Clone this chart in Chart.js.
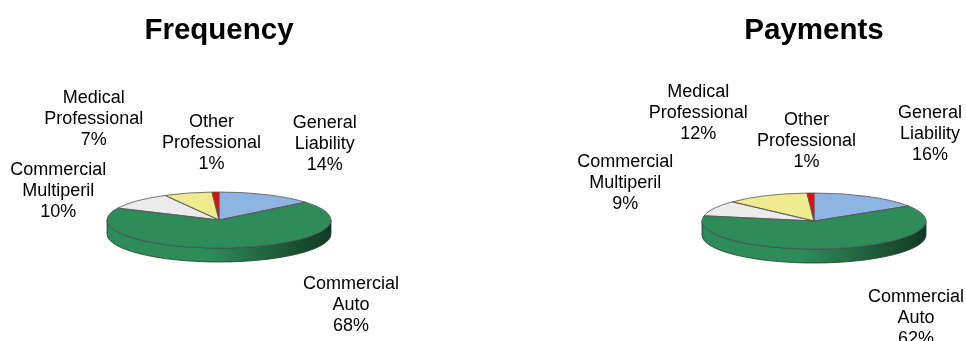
<!DOCTYPE html>
<html>
<head>
<meta charset="utf-8">
<script src="https://cdn.jsdelivr.net/npm/chart.js@4/dist/chart.umd.min.js"></script>
<style>
  body { margin: 0; background: #fff; }
  #wrap { display: flex; width: 966px; height: 341px; }
</style>
</head>
<body>
<div id="wrap">
  <canvas id="frequency" width="483" height="341"></canvas>
  <canvas id="payments" width="483" height="341"></canvas>
</div>
<script>
// lines of business, clockwise from 12 o'clock
var lineas = [
  ['General', 'Liability'],
  ['Commercial', 'Auto'],
  ['Commercial', 'Multiperil'],
  ['Medical', 'Professional'],
  ['Other', 'Professional']
];
var frecuencia = [14, 68, 10, 7, 1];
var pagos = [16, 62, 9, 12, 1];

var colores = ['#8db4e3', '#2e8b5a', '#ebebeb', '#eeec8f', '#ff0000'];
var coloresLado = ['#4f77a6', '#123a22', '#9a9a9a', '#a8a64a', '#8a0000'];

// where each label sits, relative to the rim point at the middle of its slice
var offsetsFrecuencia = [[58, -67], [118, 41], [-79, -26], [-94, -90], [-4, -65]];
var offsetsPagos = [[62, -78], [81, 53], [-89, -41], [-68, -99], [-4, -68]];

var fuente = 'Arial, "Liberation Sans", sans-serif';
var inclinacion = 0.25;
var grosor = 14;
var interlinea = 21;

var pie3d = {
  id: 'pie3d',
  beforeDatasetsDraw: function(chart) {
    var ctx = chart.ctx;
    var arcs = chart.getDatasetMeta(0).data;
    var x = arcs[0].x, y = arcs[0].y, r = arcs[0].outerRadius;
    var ry = r * inclinacion;

    // side walls, only the front half of the pie shows them
    arcs.forEach(function(arc, i) {
      var a0 = Math.max(arc.startAngle, 0);
      var a1 = Math.min(arc.endAngle, Math.PI);
      if (a1 <= a0) return;
      var g = ctx.createLinearGradient(x - r, 0, x + r, 0);
      g.addColorStop(0, colores[i]);
      g.addColorStop(0.45, colores[i]);
      g.addColorStop(1, coloresLado[i]);
      ctx.beginPath();
      ctx.ellipse(x, y, r, ry, 0, a0, a1);
      ctx.ellipse(x, y + grosor, r, ry, 0, a1, a0, true);
      ctx.closePath();
      ctx.fillStyle = g;
      ctx.fill();
      ctx.lineWidth = 0.8;
      ctx.strokeStyle = '#1e3b2a';
      ctx.stroke();
    });

    // squash the top face into an ellipse
    ctx.save();
    ctx.translate(0, y);
    ctx.scale(1, inclinacion);
    ctx.translate(0, -y);
  },
  afterDatasetsDraw: function(chart) {
    var ctx = chart.ctx;
    ctx.restore();
    var arcs = chart.getDatasetMeta(0).data;
    var x = arcs[0].x, y = arcs[0].y, r = arcs[0].outerRadius;
    var ry = r * inclinacion;

    arcs.forEach(function(arc) {
      ctx.beginPath();
      ctx.moveTo(x, y);
      ctx.lineTo(x + r * Math.cos(arc.startAngle), y + ry * Math.sin(arc.startAngle));
      ctx.ellipse(x, y, r, ry, 0, arc.startAngle, arc.endAngle);
      ctx.closePath();
      ctx.lineWidth = 0.8;
      ctx.strokeStyle = '#555';
      ctx.stroke();
    });

    // category labels with percentages
    var valores = chart.data.datasets[0].data;
    var total = valores.reduce(function(a, b) { return a + b; }, 0);
    var offsets = chart.options.plugins.pie3d.offsets;
    ctx.save();
    ctx.font = '18px ' + fuente;
    ctx.fillStyle = '#000';
    ctx.textAlign = 'center';
    ctx.textBaseline = 'alphabetic';
    arcs.forEach(function(arc, i) {
      var m = (arc.startAngle + arc.endAngle) / 2;
      var lx = x + r * Math.cos(m) + offsets[i][0];
      var ly = y + ry * Math.sin(m) + offsets[i][1];
      var texto = lineas[i].concat([Math.round(valores[i] / total * 100) + '%']);
      texto.forEach(function(t, j) {
        ctx.fillText(t, lx, ly + j * interlinea);
      });
    });
    ctx.restore();
  }
};

function pastel(id, titulo, datos, offsets, padding, tituloAbajo) {
  return new Chart(document.getElementById(id), {
    type: 'pie',
    data: {
      labels: lineas.map(function(l) { return l.join(' '); }),
      datasets: [{
        data: datos,
        backgroundColor: colores,
        borderWidth: 0,
        hoverOffset: 0,
        radius: 112
      }]
    },
    options: {
      responsive: false,
      animation: false,
      events: [],
      layout: { padding: padding },
      plugins: {
        legend: { display: false },
        tooltip: { enabled: false },
        title: {
          display: true,
          text: titulo,
          fullSize: false,
          color: '#000',
          font: { family: fuente, size: 29.5, weight: 'bold' },
          padding: { top: 13, bottom: tituloAbajo }
        },
        pie3d: { offsets: offsets }
      }
    },
    plugins: [pie3d]
  });
}

pastel('frequency', 'Frequency', frecuencia, offsetsFrecuencia,
  { left: 107, right: 152, top: 0, bottom: 0 }, 50.6);
pastel('payments', 'Payments', pagos, offsetsPagos,
  { left: 219, right: 40, top: 0, bottom: 0 }, 52.6);
</script>
</body>
</html>
